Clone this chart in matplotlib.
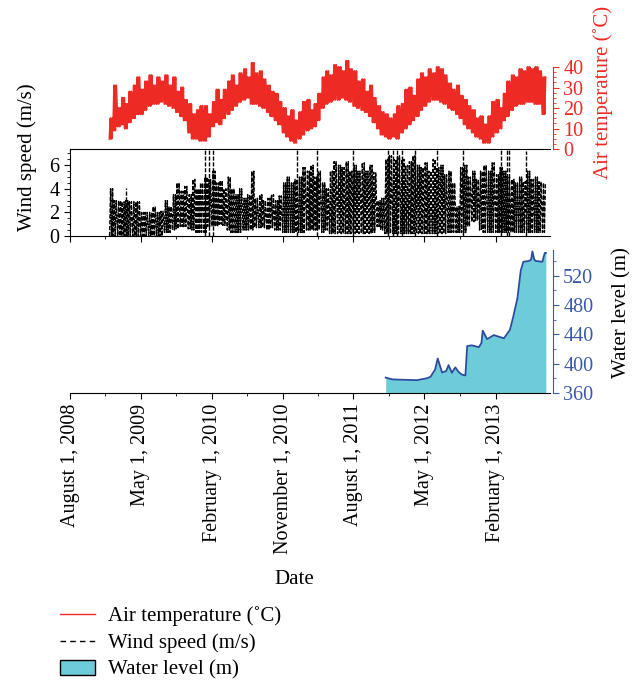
import matplotlib
matplotlib.use("Agg")
import matplotlib.pyplot as plt
import matplotlib.dates as mdates
from matplotlib.lines import Line2D
from matplotlib.patches import Patch
import numpy as np
import pandas as pd

plt.rcParams['font.family'] = ['Liberation Serif', 'DejaVu Serif']

# --- Data (half-month steps from Jan 2009) ---
temp_hi_2009 = [15, 31, 20, 25, 22, 28, 31, 35, 29, 33, 36, 31, 35, 33, 36, 31, 35, 28, 30, 24, 22, 17, 19, 21]
temp_lo_2009 = [5, 9, 11, 12, 10, 13, 15, 17, 17, 19, 21, 22, 22, 23, 22, 21, 20, 18, 16, 14, 8, 5, 5, 4]
temp_hi_2010 = [21, 17, 23, 29, 24, 29, 33, 36, 31, 37, 39, 35, 42, 37, 38, 34, 31, 28, 27, 23, 20, 16, 19, 14]
temp_lo_2010 = [4, 6, 11, 13, 12, 15, 17, 19, 21, 23, 24, 25, 22, 22, 21, 20, 18, 16, 14, 12, 8, 6, 4, 3]
temp_hi_2011 = [18, 23, 24, 19, 22, 27, 35, 38, 36, 41, 40, 38, 43, 39, 38, 33, 34, 28, 31, 25, 21, 18, 17, 15]
temp_lo_2011 = [5, 7, 9, 10, 11, 14, 20, 22, 23, 24, 24, 25, 24, 23, 21, 20, 19, 18, 16, 13, 10, 7, 6, 5]
temp_hi_2012 = [17, 21, 22, 29, 30, 26, 34, 37, 35, 39, 37, 40, 39, 36, 32, 29, 31, 26, 24, 21, 19, 15, 16, 12]
temp_lo_2012 = [6, 5, 8, 10, 12, 14, 16, 19, 21, 23, 24, 24, 23, 22, 20, 19, 17, 15, 12, 10, 8, 6, 5, 3]
temp_hi_2013 = [16, 23, 24, 20, 27, 33, 36, 35, 39, 38, 40, 39, 40, 38, 35]
temp_lo_2013 = [3, 6, 8, 10, 14, 16, 19, 21, 22, 22, 23, 23, 22, 22, 17]

wind_hi_2009 = [4.0, 3.0, 3.0, 2.9, 3.0, 2.9, 2.9, 2.9, 2.0, 2.0, 2.0, 2.5, 2.0, 2.1, 3.0, 2.5, 3.5, 4.5, 3.8, 4.2, 3.5, 4.8, 4.0, 4.5]
wind_lo_2009 = [0, 0, 0, 0, 0, 0, 0, 0, 0, 0, 0, 0, 0, 0, 0.3, 0.3, 0.5, 0.6, 0.8, 0.8, 0.6, 0.5, 0.3, 0.3]
wind_hi_2010 = [5.0, 4.8, 5.5, 4.5, 4.7, 4.0, 5.0, 4.0, 3.5, 4.0, 3.2, 3.5, 5.5, 3.2, 3.5, 3.0, 3.2, 3.5, 3.0, 3.4, 4.5, 5.0, 4.5, 4.8]
wind_lo_2010 = [0.3, 0.8, 0.8, 0.8, 1.0, 0.9, 0.5, 0.3, 0.3, 0.3, 0.5, 0.5, 0.5, 0.7, 0.7, 0.7, 0.5, 0.7, 0.5, 0.5, 0.3, 0.3, 0.3, 0.3]
wind_hi_2011 = [5.0, 5.8, 5.5, 6.0, 5.0, 5.5, 4.5, 4.0, 5.5, 6.3, 6.0, 5.8, 6.3, 5.5, 6.0, 5.5, 6.2, 5.5, 6.0, 5.4, 3.0, 3.2, 6.5, 6.8]
wind_lo_2011 = [0.3, 0.3, 0.5, 0.5, 0.5, 0.5, 0.3, 0.5, 0.2, 0.2, 0.2, 0.2, 0.2, 0.2, 0.2, 0.2, 0.2, 0.2, 0.2, 0.3, 0.8, 0.5, 0.2, 0.2]
wind_hi_2012 = [6.5, 6.8, 6.5, 6.0, 6.3, 6.8, 6.0, 5.8, 6.2, 5.5, 6.5, 5.8, 6.0, 5.2, 5.5, 4.5, 2.5, 5.8, 6.0, 5.0, 5.5, 4.8, 5.5, 6.0]
wind_lo_2012 = [0.2, 0.2, 0.2, 0.2, 0.2, 0.2, 0.2, 0.2, 0.2, 0.2, 0.2, 0.2, 0.2, 0.2, 0.3, 0.3, 0.3, 0.3, 0.3, 0.8, 1.2, 1.3, 0.5, 0.3]
wind_hi_2013 = [5.5, 6.2, 5.2, 5.8, 5.5, 5.0, 4.8, 4.5, 5.0, 4.6, 5.5, 4.8, 5.0, 4.6, 4.5]
wind_lo_2013 = [0.3, 0.3, 0.3, 0.3, 0.3, 0.3, 0.3, 0.3, 0.3, 0.3, 0.3, 0.3, 0.3, 0.3, 0.3]

# gusts that run off the top of the wind panel
spike_dates = ['2009-01-10', '2009-03-05', '2010-01-05', '2010-01-21', '2010-02-05', '2010-12-28',
               '2011-03-15', '2011-07-30', '2011-12-13', '2012-01-02', '2012-01-17', '2012-02-05',
               '2012-03-27', '2012-06-20', '2012-09-29', '2013-02-20', '2013-03-15', '2013-03-23',
               '2013-05-28']
spike_vals = [4.1, 4.1, 8, 8, 8, 8, 8, 8, 8, 8, 8, 8, 8, 8, 8, 8, 8, 8, 7.2]

water_dates = ['2011-12-04', '2011-12-31', '2012-02-15', '2012-04-03', '2012-05-10', '2012-05-25',
               '2012-06-12', '2012-06-22', '2012-07-09', '2012-07-25', '2012-08-03', '2012-08-16',
               '2012-08-29', '2012-09-10', '2012-09-24', '2012-10-07', '2012-10-14', '2012-11-01',
               '2012-11-28', '2012-12-08', '2012-12-13', '2012-12-30', '2013-01-25', '2013-02-13',
               '2013-03-05', '2013-03-28', '2013-04-10', '2013-04-26', '2013-05-09', '2013-05-19',
               '2013-06-10', '2013-06-18', '2013-06-23', '2013-06-30', '2013-07-06', '2013-08-01',
               '2013-08-05', '2013-08-10', '2013-08-14']
water_vals = [381, 378.5, 378, 377.5, 380, 382, 392, 407, 388, 390, 398, 387.5, 395, 389, 385, 384,
              424, 425, 422.5, 428, 445, 433.5, 439, 436.8, 434.6, 446, 464, 489, 527, 539, 540, 542,
              553, 542, 540, 539, 545, 551, 551]

tick_dates = ['2008-08-01', '2009-05-01', '2010-02-01', '2010-11-01', '2011-08-01', '2012-05-01', '2013-02-01']
tick_labels = ['August 1, 2008', 'May 1, 2009', 'February 1, 2010', 'November 1, 2010',
               'August 1, 2011', 'May 1, 2012', 'February 1, 2013']

RED = '#ee2a24'
BLUE = '#3a58a8'
FILL = '#6ecbd8'
EDGE = '#2b4c9e'
FS = 14.5

temp_hi = temp_hi_2009 + temp_hi_2010 + temp_hi_2011 + temp_hi_2012 + temp_hi_2013
temp_lo = temp_lo_2009 + temp_lo_2010 + temp_lo_2011 + temp_lo_2012 + temp_lo_2013
wind_hi = wind_hi_2009 + wind_hi_2010 + wind_hi_2011 + wind_hi_2012 + wind_hi_2013
wind_lo = wind_lo_2009 + wind_lo_2010 + wind_lo_2011 + wind_lo_2012 + wind_lo_2013

t = pd.date_range('2009-01-01', periods=len(temp_hi), freq='SMS')


# swing between the low and high reading of each half-month, a few times
def zigzag(lo, hi, n=2):
    xs, ys = [], []
    step = pd.Timedelta(days=15 / (2 * n))
    for a, l, h in zip(t, lo, hi):
        for k in range(n):
            xs += [a + step * (2 * k), a + step * (2 * k + 1)]
            ys += [l, h]
    return xs, ys


fig = plt.figure(figsize=(6.44, 6.82), dpi=100)
L, W = 70 / 644, 480 / 644
ax_t = fig.add_axes([L, 1 - 149 / 682, W, 91 / 682])
ax_w = fig.add_axes([L, 1 - 236 / 682, W, 87 / 682], sharex=ax_t)
ax_l = fig.add_axes([L, 1 - 393 / 682, W, 143 / 682], sharex=ax_t)

# --- temperature ---
xs, ys = zigzag(temp_lo, temp_hi, n=2)
ax_t.plot(xs, ys, color=RED, lw=1.5)
ax_t.set_ylim(0, 44.4)
for s in ['left', 'top', 'bottom']:
    ax_t.spines[s].set_visible(False)
ax_t.spines['right'].set_color(RED)
ax_t.spines['right'].set_bounds(0, 40)
ax_t.spines['right'].set_position(('outward', 2))
ax_t.yaxis.tick_right()
ax_t.set_yticks([0, 10, 20, 30, 40])
ax_t.set_yticks(np.arange(0, 41, 2.5), minor=True)
ax_t.tick_params(axis='y', which='both', colors=RED, labelcolor=RED, labelsize=FS, direction='out')
ax_t.tick_params(axis='y', which='major', length=4)
ax_t.tick_params(axis='y', which='minor', length=2)
# date ticks hanging down into the wind panel
ax_t.tick_params(axis='x', which='both', bottom=True, labelbottom=False, direction='out')
ax_t.tick_params(axis='x', which='major', length=4)
ax_t.tick_params(axis='x', which='minor', length=2.5)

# --- wind ---
xs, ys = zigzag(wind_lo, wind_hi, n=2)
ax_w.plot(xs, ys, color='black', lw=1.0, linestyle=(0, (3, 1.2)))
ax_w.vlines(pd.to_datetime(spike_dates), 0, spike_vals, color='black', lw=1.0, linestyle=(0, (3, 1.2)))
ax_w.set_ylim(0, 7.37)
ax_w.spines['right'].set_visible(False)
ax_w.set_yticks([0, 2, 4, 6])
ax_w.set_yticks(np.arange(0, 7.1, 0.5), minor=True)
ax_w.tick_params(axis='y', which='both', labelsize=FS, direction='out')
ax_w.tick_params(axis='y', which='major', length=4)
ax_w.tick_params(axis='y', which='minor', length=2)
ax_w.tick_params(axis='x', which='both', top=False, bottom=True, labelbottom=False, direction='out')
ax_w.tick_params(axis='x', which='major', length=4)
ax_w.tick_params(axis='x', which='minor', length=2.5)

# --- water level ---
wd = pd.to_datetime(water_dates)
ax_l.fill_between(wd, 360, water_vals, color=FILL, lw=0)
ax_l.plot(wd, water_vals, color=EDGE, lw=1.3)
ax_l.set_ylim(360, 555)
for s in ['left', 'top']:
    ax_l.spines[s].set_visible(False)
ax_l.spines['right'].set_color(BLUE)
ax_l.spines['right'].set_position(('outward', 2))
ax_l.yaxis.tick_right()
ax_l.set_yticks([360, 400, 440, 480, 520])
ax_l.set_yticks(np.arange(360, 555, 20), minor=True)
ax_l.tick_params(axis='y', which='both', colors=BLUE, labelcolor=BLUE, labelsize=FS, direction='out')
ax_l.tick_params(axis='y', which='major', length=4)
ax_l.tick_params(axis='y', which='minor', length=2)

major = mdates.date2num(pd.to_datetime(tick_dates))
ax_l.set_xticks(major)
ax_l.set_xticklabels(tick_labels, rotation=90, fontsize=FS)
ax_l.set_xticks((major[:-1] + major[1:]) / 2, minor=True)
ax_l.tick_params(axis='x', which='major', length=4, direction='out')
ax_l.tick_params(axis='x', which='minor', length=2.5, direction='out')
ax_l.set_xlim(pd.Timestamp('2008-08-01'), pd.Timestamp('2013-08-30'))

# --- labels ---
fig.text(603 / 644, 1 - 92 / 682, 'Air temperature (˚C)', rotation=90, color=RED, fontsize=15,
         ha='center', va='center')
fig.text(27 / 644, 1 - 157 / 682, 'Wind speed (m/s)', rotation=90, fontsize=15, ha='center', va='center')
fig.text(622 / 644, 1 - 313 / 682, 'Water level (m)', rotation=90, fontsize=15, ha='center', va='center')
fig.text(294 / 644, 1 - 580 / 682, 'Date', fontsize=15, ha='center', va='center')

handles = [Line2D([], [], color=RED, lw=1),
           Line2D([], [], color='black', lw=1, linestyle=(0, (4, 3))),
           Patch(facecolor=FILL, edgecolor='black', lw=1)]
fig.legend(handles, ['Air temperature (˚C)', 'Wind speed (m/s)', 'Water level (m)'],
           loc='upper left', bbox_to_anchor=(60 / 644, 1 - 606 / 682), frameon=False, fontsize=15,
           handlelength=1.7, handletextpad=0.6, labelspacing=0.35, borderpad=0, borderaxespad=0)

fig.savefig('out.png', dpi=100)
